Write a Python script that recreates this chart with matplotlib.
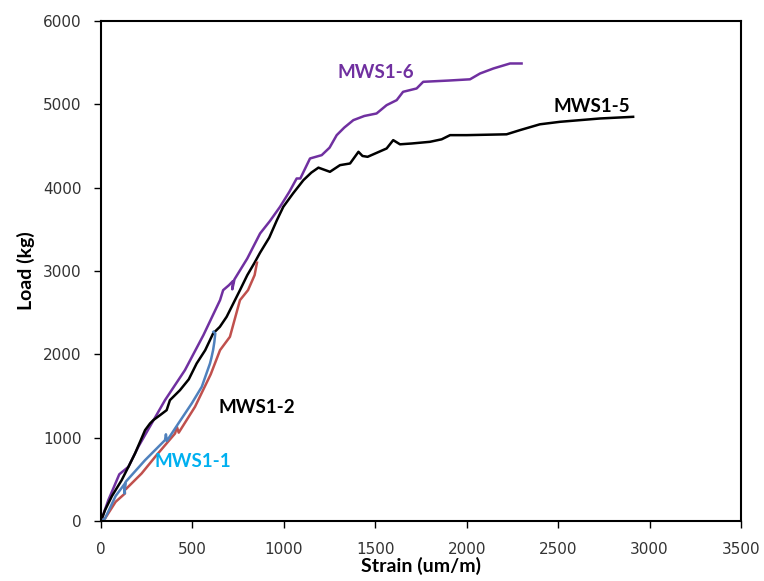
import matplotlib
matplotlib.use("Agg")
import matplotlib.pyplot as plt

# ── data (strain um/m, load kg) ───────────────────────────────────────────────
mws1_6_x = [0, 40, 100, 150, 204, 277, 350, 459, 560, 651, 668, 700, 722, 718, 730,
            800, 870, 924, 979, 1030, 1070, 1090, 1143, 1207, 1250, 1289, 1330, 1380,
            1440, 1507, 1562, 1617, 1652, 1726, 1762, 1900, 2018, 2073, 2146, 2237,
            2300]
mws1_6_y = [0, 250, 560, 650, 890, 1170, 1450, 1810, 2230, 2650, 2770, 2830, 2880,
            2780, 2900, 3150, 3450, 3600, 3770, 3950, 4110, 4110, 4350, 4390, 4480,
            4630, 4720, 4810, 4860, 4890, 4990, 5050, 5150, 5190, 5270, 5285, 5300,
            5370, 5430, 5490, 5490]

mws1_5_x = [0, 22, 60, 113, 150, 186, 241, 268, 286, 323, 359, 377, 432, 480, 523,
            570, 613, 650, 687, 760, 800, 840, 870, 920, 962, 997, 1050, 1107, 1150,
            1189, 1252, 1307, 1362, 1408, 1430, 1458, 1510, 1562, 1598, 1635, 1700,
            1799, 1863, 1909, 2000, 2218, 2291, 2400, 2510, 2729, 2910]
mws1_5_y = [0, 130, 300, 490, 650, 810, 1090, 1170, 1210, 1270, 1330, 1450, 1570,
            1700, 1890, 2050, 2250, 2330, 2450, 2770, 2950, 3100, 3220, 3400, 3610,
            3770, 3930, 4090, 4180, 4240, 4190, 4270, 4290, 4430, 4380, 4370, 4420,
            4470, 4570, 4520, 4530, 4550, 4580, 4630, 4630, 4640, 4690, 4760, 4790,
            4830, 4850]

mws1_2_x = [0, 22, 80, 131, 128, 135, 222, 300, 405, 415, 425, 514, 600, 651, 705,
            760, 804, 840, 853]
mws1_2_y = [0, 30, 230, 330, 430, 380, 570, 780, 1050, 1130, 1060, 1370, 1760,
            2050, 2210, 2650, 2770, 2950, 3100]

mws1_1_x = [0, 22, 80, 131, 128, 135, 241, 350, 355, 360, 423, 496, 551, 596, 603,
            613, 620, 625, 615]
mws1_1_y = [0, 30, 300, 450, 330, 470, 730, 970, 1040, 960, 1170, 1410, 1610, 1890,
            1950, 2050, 2150, 2250, 2270]

labels = ["MWS1-6", "MWS1-5", "MWS1-2", "MWS1-1"]
label_xy = [(1296, 5380), (2472, 4970), (640, 1356), (295, 708)]
label_cols = ["#7030A0", "#000000", "#000000", "#00B0F0"]

# ── plot ──────────────────────────────────────────────────────────────────────
fig = plt.figure(figsize=(7.64, 5.81), dpi=100)
ax = fig.add_axes([0.1322, 0.1033, 0.8377, 0.8606])

ax.plot(mws1_6_x, mws1_6_y, color="#7030A0", lw=1.8)
ax.plot(mws1_5_x, mws1_5_y, color="#000000", lw=1.8)
ax.plot(mws1_2_x, mws1_2_y, color="#C0504D", lw=1.8)
ax.plot(mws1_1_x, mws1_1_y, color="#4F81BD", lw=1.8)

for txt, (tx, ty), col in zip(labels, label_xy, label_cols):
    ax.text(tx, ty, txt, color=col, fontsize=13.5, fontweight="bold",
            fontfamily="Lato", ha="left", va="center")

ax.set_xlim(0, 3500)
ax.set_ylim(0, 6000)
ax.set_xticks(range(0, 3501, 500))
ax.set_yticks(range(0, 6001, 1000))
ax.tick_params(direction="out", length=5, width=1, colors="#000000",
               labelsize=11, labelcolor="#333333")
ax.tick_params(axis="x", pad=10)
ax.tick_params(axis="y", pad=9)
for sp in ax.spines.values():
    sp.set_linewidth(1.5)
    sp.set_color("#000000")

ax.set_xlabel("Strain (um/m)", fontsize=14, fontweight="bold",
              fontfamily="Lato", labelpad=0)
ax.set_ylabel("Load (kg)", fontsize=14, fontweight="bold",
              fontfamily="Lato", labelpad=6)

fig.savefig("out.png", dpi=100, facecolor="white")
